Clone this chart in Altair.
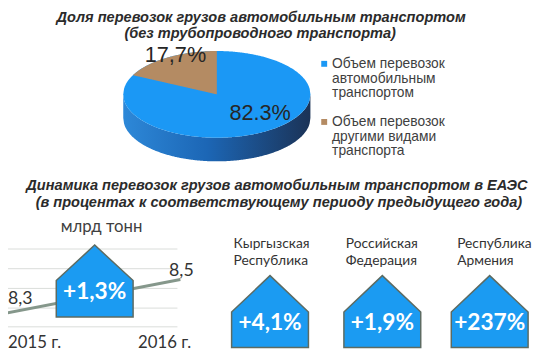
import altair as alt
import numpy as np
import pandas as pd

# ---------------- data ----------------
share_names = [["Объем  перевозок", "автомобильным", "транспортом"],
               ["Объем  перевозок", "другими  видами", "транспорта"]]
shares = [82.3, 17.7]
share_text = ["82.3%", "17,7%"]
share_colors = ["#1b98f5", "#b48b63"]

years = [2015, 2016]
year_labels = ["2015 г.", "2016 г."]
volumes = [8.3, 8.5]
volume_text = ["8,3", "8,5"]
volume_unit = "млрд тонн"
total_growth = "+1,3%"

countries = [["Кыргызская", "Республика"], ["Российская", "Федерация"], ["Республика", "Армения"]]
country_growth = ["+4,1%", "+1,9%", "+237%"]

title1 = ["Доля перевозок грузов автомобильным транспортом", "(без трубопроводного  транспорта)"]
title2 = ["Динамика перевозок грузов автомобильным транспортом в ЕАЭС",
          "(в процентах к соответствующему  периоду предыдущего года)"]

# ---------------- layout (page pixels) ----------------
W, H = 535, 352
XS = alt.Scale(domain=[8, 543], nice=False, zero=False)
YS = alt.Scale(domain=[8, 360], nice=False, zero=False, reverse=True)

def px(df, mark):
    return alt.Chart(df).mark_text(**mark).encode(
        x=alt.X("x:Q", scale=XS, axis=None),
        y=alt.Y("y:Q", scale=YS, axis=None),
        text="t:N")

layers = []

# ---- pie (elliptical, 3D) ----
cx, cy, rx, ry, depth = 220, 93, 95, 44, 24
xs = np.linspace(cx - rx, cx + rx, 241)
half = ry * np.sqrt(np.clip(1 - ((xs - cx) / rx) ** 2, 0, 1))
side = pd.DataFrame({"x": xs, "y": cy + half, "y2": cy + half + depth})
grad = alt.LinearGradient(gradient="linear", x1=0, x2=1, y1=0, y2=0,
                          stops=[alt.GradientStop(offset=0, color="#2d88d8"),
                                 alt.GradientStop(offset=0.45, color="#1c66b5"),
                                 alt.GradientStop(offset=1, color="#1b3357")])
layers.append(alt.Chart(side).mark_area(color=grad).encode(
    x=alt.X("x:Q", scale=XS, axis=None), y=alt.Y("y:Q", scale=YS, axis=None), y2="y2:Q"))
top = pd.DataFrame({"x": xs, "y": cy - half, "y2": cy + half})
layers.append(alt.Chart(top).mark_area(color=share_colors[0]).encode(
    x=alt.X("x:Q", scale=XS, axis=None), y=alt.Y("y:Q", scale=YS, axis=None), y2="y2:Q"))
# second slice: counter-clockwise from 12 o'clock
t0 = 2 * np.pi * (1 - shares[1] / sum(shares))
ex, ey = cx + rx * np.sin(t0), cy - ry * np.cos(t0)
wx = np.linspace(ex, cx, 120)
wup = cy - ry * np.sqrt(np.clip(1 - ((wx - cx) / rx) ** 2, 0, 1))
wlo = ey + (wx - ex) * (cy - ey) / (cx - ex)
wedge = pd.DataFrame({"x": wx, "y": wup, "y2": wlo})
layers.append(alt.Chart(wedge).mark_area(color=share_colors[1]).encode(
    x=alt.X("x:Q", scale=XS, axis=None), y=alt.Y("y:Q", scale=YS, axis=None), y2="y2:Q"))

layers.append(px(pd.DataFrame({"x": [178, 264], "y": [53, 112], "t": [share_text[1], share_text[0]]}),
                 dict(font="Liberation Sans", fontSize=22, color="#262626", baseline="middle", align="center")))

# legend
leg = pd.DataFrame({"x": [329, 329], "y": [62, 121], "c": share_colors})
layers.append(alt.Chart(leg).mark_square(size=36, opacity=1).encode(
    x=alt.X("x:Q", scale=XS, axis=None), y=alt.Y("y:Q", scale=YS, axis=None),
    color=alt.Color("c:N", scale=None)))
leg_rows = []
for i, lines in enumerate(share_names):
    for j, ln in enumerate(lines):
        leg_rows.append({"x": 337, "y": [62, 121][i] + j * 15, "t": ln})
layers.append(px(pd.DataFrame(leg_rows),
                 dict(font="Liberation Sans", fontSize=14, color="#404040", baseline="middle", align="left")))

# titles
trows = [{"x": 265, "y": 16, "t": title1[0]}, {"x": 264, "y": 32, "t": title1[1]},
         {"x": 281, "y": 186, "t": title2[0]}, {"x": 283, "y": 203, "t": title2[1]}]
layers.append(px(pd.DataFrame(trows),
                 dict(font="Liberation Sans", fontSize=14.8, fontWeight="bold", fontStyle="italic",
                      color="#2b2b2b", baseline="middle", align="center")))

# ---- small line chart ----
grid = pd.DataFrame({"x": 6, "x2": 180, "y": [250, 270, 290, 310, 329]})
layers.append(alt.Chart(grid).mark_rule(color="#d9dcd9", strokeWidth=1).encode(
    x=alt.X("x:Q", scale=XS, axis=None), x2="x2:Q", y=alt.Y("y:Q", scale=YS, axis=None)))
LX = alt.Scale(domain=[years[0], years[1]], range=[-2, 175], nice=False, zero=False)
LY = alt.Scale(domain=[volumes[0], volumes[1]], range=[307, 273], nice=False, zero=False)
vol = pd.DataFrame({"year": years, "v": volumes, "t": volume_text})
layers.append(alt.Chart(vol).mark_line(color="#85978b", strokeWidth=3).encode(
    x=alt.X("year:Q", scale=LX, axis=None), y=alt.Y("v:Q", scale=LY, axis=None)))
layers.append(alt.Chart(vol.iloc[[0]]).mark_text(font="Lato", fontSize=18, color="#333333", align="left",
                                                 baseline="middle", dy=-14, dx=2).encode(
    x=alt.X("year:Q", scale=LX, axis=None), y=alt.Y("v:Q", scale=LY, axis=None), text="t:N"))
layers.append(alt.Chart(vol.iloc[[1]]).mark_text(font="Lato", fontSize=18, color="#333333", align="center",
                                                 baseline="middle", dy=-9, dx=1).encode(
    x=alt.X("year:Q", scale=LX, axis=None), y=alt.Y("v:Q", scale=LY, axis=None), text="t:N"))
layers.append(px(pd.DataFrame({"x": [35, 167], "y": [345, 345], "t": year_labels}),
                 dict(font="Lato", fontSize=17, color="#333333", baseline="middle", align="center")))
layers.append(px(pd.DataFrame({"x": [103], "y": [228], "t": [volume_unit]}),
                 dict(font="Lato", fontSize=17, color="#404040", baseline="middle", align="center")))

# ---- houses ----
houses = [(57, 135, 246, 282, 319), (235, 313, 277, 314, 350),
          (349, 427, 277, 314, 350), (458, 536, 277, 314, 350)]
hrows = []
for k, (L, R, A, E, B) in enumerate(houses):
    for xx, yy in [(L, E), ((L + R) / 2, A), (R, E)]:
        hrows.append({"h": k, "x": xx, "y": yy, "y2": B})
layers.append(alt.Chart(pd.DataFrame(hrows)).mark_area(
    color="#1b9bf2", stroke="#5d6b62", strokeWidth=1.5).encode(
    x=alt.X("x:Q", scale=XS, axis=None), y=alt.Y("y:Q", scale=YS, axis=None), y2="y2:Q",
    detail="h:N"))
pct = [total_growth] + country_growth
prow = [{"x": (h[0] + h[1]) / 2, "y": (294 if k == 0 else 325), "t": pct[k]} for k, h in enumerate(houses)]
layers.append(px(pd.DataFrame(prow),
                 dict(font="Lato", fontSize=23, fontWeight="bold", color="white", baseline="middle", align="center")))
crow = []
for k, lines in enumerate(countries):
    for j, ln in enumerate(lines):
        crow.append({"x": [237, 351, 464][k], "y": 245 + 17 * j, "t": ln})
layers.append(px(pd.DataFrame(crow),
                 dict(font="Lato", fontSize=14, color="#333333", baseline="middle", align="left")))

chart = alt.layer(*layers).resolve_scale(x="independent", y="independent").properties(
    width=W, height=H, autosize=alt.AutoSizeParams(type="none"), padding=0,
    background="white").configure_view(stroke=None)

chart.save("out.html", embed_options={"renderer": "svg", "actions": False})
